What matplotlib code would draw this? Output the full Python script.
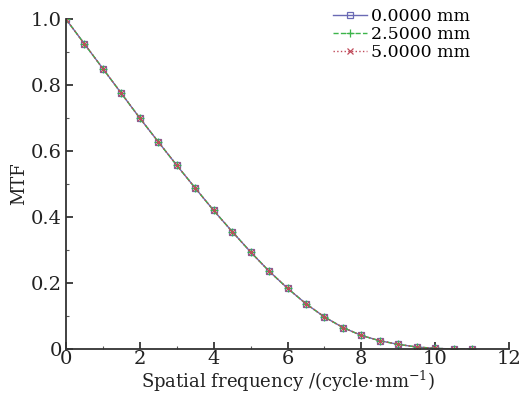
import matplotlib
matplotlib.use("Agg")
import matplotlib.pyplot as plt
from matplotlib.ticker import MultipleLocator

plt.rcParams['font.family'] = ['DejaVu Serif']
plt.rcParams['mathtext.fontset'] = 'dejavuserif'

freq = [0, 0.5, 1, 1.5, 2, 2.5, 3, 3.5, 4, 4.5, 5, 5.5, 6, 6.5, 7, 7.5,
        8, 8.5, 9, 9.5, 10, 10.5, 11]
mtf_0 = [1.0, 0.925, 0.850, 0.775, 0.700, 0.628, 0.557, 0.488, 0.420, 0.356,
         0.294, 0.236, 0.184, 0.137, 0.097, 0.065, 0.041, 0.025, 0.014,
         0.006, 0.002, 0.0, 0.0]
mtf_25 = list(mtf_0)
mtf_5 = list(mtf_0)
labels = ['0.0000 mm', '2.5000 mm', '5.0000 mm']
xticks = [0, 2, 4, 6, 8, 10, 12]
yticks = [0, 0.2, 0.4, 0.6, 0.8, 1.0]
yticklabels = ['0', '0.2', '0.4', '0.6', '0.8', '1.0']

fig = plt.figure(figsize=(5.31, 4.0), dpi=100)
ax = fig.add_axes([0.124, 0.1275, 0.835, 0.825])

ax.plot(freq, mtf_0, '-', color='#6a6ab4', lw=1.0, marker='s', ms=5,
        mfc='none', mec='#6a6ab4', mew=0.9, label=labels[0])
ax.plot(freq, mtf_25, '--', color='#3cb44a', lw=1.0, marker='+', ms=6,
        mec='#3cb44a', mew=0.9, label=labels[1])
ax.plot(freq, mtf_5, ':', color='#c04a5a', lw=1.0, marker='x', ms=5,
        mec='#c04a5a', mew=0.9, label=labels[2])

ax.set_xlim(0, 12)
ax.set_ylim(0, 1.0)
ax.set_xticks(xticks)
ax.set_yticks(yticks)
ax.set_yticklabels(yticklabels)
ax.xaxis.set_minor_locator(MultipleLocator(1))
ax.yaxis.set_minor_locator(MultipleLocator(0.1))
ax.tick_params(which='major', direction='in', length=5, width=1.2,
               labelsize=14, colors='#222222')
ax.tick_params(which='minor', direction='in', length=2.5, width=0.8,
               colors='#555555')
ax.tick_params(axis='x', pad=1)
ax.tick_params(axis='y', pad=3)
for s in ['top', 'right']:
    ax.spines[s].set_visible(False)
for s in ['left', 'bottom']:
    ax.spines[s].set_linewidth(1.3)
    ax.spines[s].set_color('#333333')

ax.set_xlabel('Spatial frequency /(cycle$\\cdot$mm$^{-1}$)', fontsize=13,
              labelpad=0, color='#222222')
ax.set_ylabel('MTF', fontsize=13, labelpad=2, color='#222222')

leg = ax.legend(loc='upper right', bbox_to_anchor=(0.935, 1.065), frameon=False,
                fontsize=12.5, handlelength=2.0, handletextpad=0.2,
                labelspacing=0.05, borderaxespad=0.2)

fig.savefig('out.png', dpi=100)
